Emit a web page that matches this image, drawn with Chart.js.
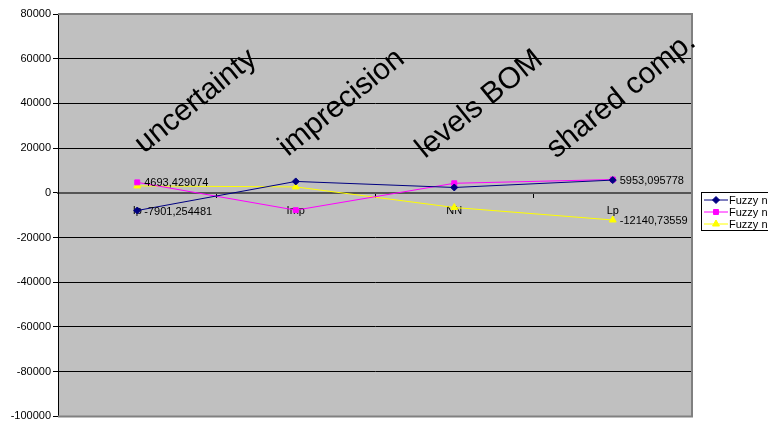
<!DOCTYPE html>
<html>
<head>
<meta charset="utf-8">
<script src="https://cdn.jsdelivr.net/npm/chart.js@4"></script>
<style>
    body { margin: 0; background: #fff; overflow: hidden; }
</style>
</head>
<body>
<canvas id="myChart" width="768" height="425"></canvas>
<script>
const categories = ['Ip', 'Imp', 'NN', 'Lp'];
const seriesNames = ['Fuzzy n1', 'Fuzzy n2', 'Fuzzy n3'];
const fuzzyN1 = [-7901.254481, 5100, 2400, 5700];
const fuzzyN2 = [4693.429074, -7750, 4280, 5953.095778];
const fuzzyN3 = [3100, 2650, -6550, -12140.73559];
const yTicks = [80000, 60000, 40000, 20000, 0, -20000, -40000, -60000, -80000, -100000];
const notes = ['uncertainty', 'imprecision', 'levels BOM', 'shared comp.'];
// [series, point] pairs that carry a value label
const labelled = [[1, 0], [0, 0], [1, 3], [2, 3]];

const FONT = '"Liberation Sans", Arial, sans-serif';


const plotBackground = {
    id: 'plotBackground',
    beforeDraw(chart) {
        const { ctx, chartArea: a } = chart;
        ctx.save();
        ctx.fillStyle = '#c0c0c0';
        ctx.fillRect(a.left, a.top, a.right - a.left, a.bottom - a.top);
        ctx.restore();
    },
    afterDatasetsDraw(chart) {
        const { ctx, chartArea: a } = chart;
        ctx.save();
        ctx.strokeStyle = '#808080';
        ctx.lineWidth = 2;
        ctx.beginPath();
        ctx.moveTo(a.left, a.top);
        ctx.lineTo(a.right, a.top);
        ctx.lineTo(a.right, a.bottom);
        ctx.lineTo(a.left, a.bottom);
        ctx.stroke();
        ctx.restore();
    }
};


const notesPlugin = {
    id: 'notesPlugin',
    afterDatasetsDraw(chart) {
        const { ctx, chartArea: a } = chart;
        const starts = [[86, 140], [230, 143], [367, 145], [498, 145]];
        ctx.save();
        ctx.font = '30px ' + FONT;
        ctx.fillStyle = '#000';
        ctx.textBaseline = 'alphabetic';
        notes.forEach((t, i) => {
            ctx.save();
            ctx.translate(a.left + starts[i][0], a.top + starts[i][1]);
            ctx.rotate(-39 * Math.PI / 180);
            ctx.fillText(t, 0, 0);
            ctx.restore();
        });
        ctx.restore();
    }
};


const valueLabels = {
    id: 'valueLabels',
    afterDatasetsDraw(chart) {
        const { ctx } = chart;
        ctx.save();
        ctx.font = '11px ' + FONT;
        ctx.fillStyle = '#000';
        ctx.textBaseline = 'middle';
        labelled.forEach(([d, i]) => {
            const pt = chart.getDatasetMeta(d).data[i];
            const v = chart.data.datasets[d].data[i];
            ctx.fillText(String(v).replace('.', ','), pt.x + 7, pt.y + 1);
        });
        ctx.restore();
    }
};


const boxLegend = {
    id: 'boxLegend',
    afterDraw(chart) {
        const { ctx } = chart;
        const x = 701, y = 192, rowH = 12;
        const sets = chart.data.datasets;
        ctx.save();
        ctx.fillStyle = '#fff';
        ctx.strokeStyle = '#000';
        ctx.lineWidth = 1;
        ctx.fillRect(x, y, 100, sets.length * rowH + 2);
        ctx.strokeRect(x + 0.5, y + 0.5, 100, sets.length * rowH + 2);
        ctx.font = '11px ' + FONT;
        ctx.textBaseline = 'middle';
        sets.forEach((ds, i) => {
            const cy = y + 8 + i * rowH;
            ctx.strokeStyle = ds.borderColor;
            ctx.fillStyle = ds.backgroundColor;
            ctx.beginPath();
            ctx.moveTo(x + 3, cy);
            ctx.lineTo(x + 27, cy);
            ctx.stroke();
            Chart.helpers.drawPoint(ctx, {
                pointStyle: ds.pointStyle,
                radius: ds.pointRadius,
                borderWidth: 1
            }, x + 15, cy);
            ctx.fillStyle = '#000';
            ctx.fillText(ds.label, x + 28, cy + 1);
        });
        ctx.restore();
    }
};


function makeSet(label, data, color, style, radius) {
    return {
        label: label,
        data: data,
        borderColor: color,
        backgroundColor: color,
        borderWidth: 1,
        pointStyle: style,
        pointRadius: radius,
        pointHoverRadius: radius,
        pointBorderWidth: 1,
        tension: 0
    };
}


function renderChart() {
    Chart.defaults.font.family = FONT;
    Chart.defaults.color = '#000';
    const ctx = document.getElementById('myChart');

    new Chart(ctx, {
        type: 'line',
        data: {
            labels: categories,
            datasets: [
                makeSet(seriesNames[0], fuzzyN1, '#000080', 'rectRot', 3.5),
                makeSet(seriesNames[1], fuzzyN2, '#ff00ff', 'rect', 3.5),
                makeSet(seriesNames[2], fuzzyN3, '#ffff00', 'triangle', 4)
            ]
        },
        options: {
            responsive: false,
            animation: false,
            layout: { padding: { left: 0, top: 14, right: 76, bottom: 3 } },
            plugins: {
                legend: { display: false },
                tooltip: { enabled: false }
            },
            scales: {
                x: {
                    type: 'category',
                    position: { y: 0 },
                    offset: true,
                    grid: {
                        offset: true,
                        drawOnChartArea: false,
                        drawTicks: true,
                        tickLength: 4,
                        color: '#000'
                    },
                    border: { color: '#555', width: 2 },
                    ticks: { font: { size: 11 }, padding: 8, maxRotation: 0, autoSkip: false }
                },
                y: {
                    min: -100000,
                    max: 80000,
                    afterFit(scale) { scale.width = 58; },
                    afterBuildTicks(scale) { scale.ticks = yTicks.map(v => ({ value: v })); },
                    grid: { color: '#000', lineWidth: 1, tickLength: 5 },
                    border: { color: '#000', width: 1 },
                    ticks: {
                        font: { size: 11 },
                        padding: 2,
                        callback: v => String(v)
                    }
                }
            }
        },
        plugins: [plotBackground, notesPlugin, valueLabels, boxLegend]
    });
}

renderChart();
</script>
</body>
</html>
